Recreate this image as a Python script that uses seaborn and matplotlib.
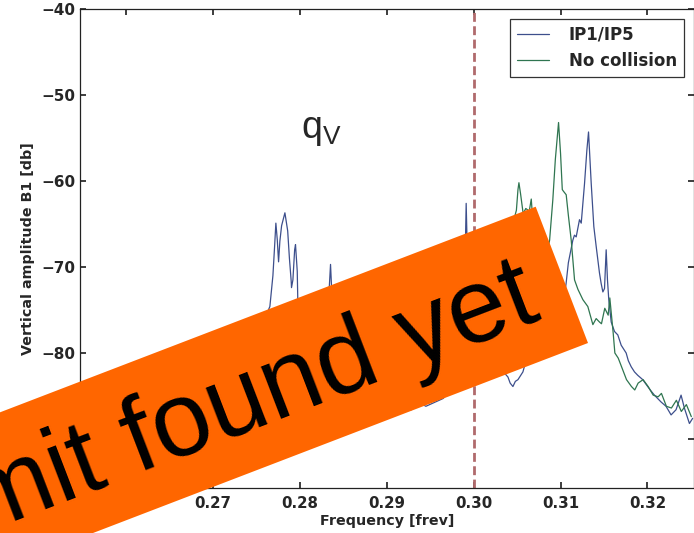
import numpy as np
import matplotlib
matplotlib.use("Agg")
import matplotlib.pyplot as plt
from matplotlib.patches import Rectangle
import seaborn as sns

####################################################################
# Spectra (frequency in frev, amplitude in db)
ip_freq = [0.2547, 0.2560, 0.2575, 0.2590, 0.2605, 0.2620, 0.2635, 0.2650, 0.2665,
           0.2680, 0.2695, 0.2710, 0.2725, 0.2740, 0.2752, 0.2760, 0.27655, 0.2769,
           0.2771, 0.27724, 0.2774, 0.27755, 0.2777, 0.2779, 0.27828, 0.2786, 0.2788,
           0.2790, 0.27904, 0.2792, 0.2794, 0.2795, 0.2797, 0.27977, 0.2800, 0.2805,
           0.2812, 0.2820, 0.2828, 0.2833, 0.28353, 0.2837, 0.2842, 0.2850, 0.2860,
           0.2870, 0.2880, 0.2890, 0.2900, 0.2910, 0.29284, 0.2935, 0.2945, 0.29647,
           0.29686, 0.2975, 0.2982, 0.2987, 0.2990, 0.29914, 0.2993, 0.2996, 0.3000,
           0.3008, 0.3015, 0.3022, 0.3030, 0.30395, 0.3042, 0.30452, 0.3048, 0.3051,
           0.30567, 0.30594, 0.3065, 0.3072, 0.3080, 0.3088, 0.3095, 0.3100, 0.3104,
           0.31064, 0.3109, 0.31141, 0.3116, 0.3118, 0.31218, 0.31238, 0.31276, 0.31303,
           0.31322, 0.31335, 0.31353, 0.31383, 0.3141, 0.31448, 0.31467, 0.31487, 0.31506,
           0.31525, 0.3154, 0.31555, 0.31583, 0.31621, 0.31659, 0.31698, 0.31755, 0.3178,
           0.31813, 0.31851, 0.31889, 0.31946, 0.32003, 0.3204, 0.3208, 0.32157, 0.32214,
           0.32272, 0.32329, 0.32387, 0.32425, 0.32483, 0.3252]
ip_amp = [-88.0, -87.2, -88.5, -86.9, -87.8, -86.4, -87.1, -85.8, -86.5,
          -84.9, -85.3, -83.6, -82.1, -80.2, -77.8, -75.9, -74.6, -71.0,
          -67.5, -64.9, -66.8, -69.4, -67.0, -65.2, -63.7, -65.8, -69.0,
          -71.6, -72.4, -71.5, -68.0, -67.4, -70.5, -74.2, -77.5, -78.8,
          -79.5, -77.8, -76.9, -74.0, -69.7, -73.5, -76.2, -78.4, -80.1,
          -81.5, -82.8, -84.0, -85.2, -86.0, -86.6, -85.6, -86.2, -85.3,
          -84.9, -83.0, -80.1, -76.0, -70.0, -62.6, -69.5, -76.8, -79.5,
          -80.8, -81.6, -82.4, -81.7, -82.8, -83.5, -83.9, -83.3, -83.1,
          -82.2, -81.2, -80.0, -78.6, -78.0, -77.2, -76.3, -75.0, -73.8,
          -71.9, -69.5, -66.9, -66.3, -66.5, -64.5, -64.9, -60.3, -56.4,
          -54.3, -56.8, -60.3, -65.3, -67.6, -70.7, -71.9, -72.9, -72.5,
          -68.0, -71.5, -73.8, -76.4, -77.5, -77.9, -79.1, -80.0, -80.9,
          -81.6, -82.2, -82.6, -83.1, -83.9, -84.4, -84.9, -85.7, -86.2,
          -87.2, -86.6, -84.9, -86.4, -88.2, -87.6]

nc_freq = [0.2547, 0.2562, 0.2578, 0.2594, 0.2610, 0.2626, 0.2642, 0.2658, 0.2674,
           0.2690, 0.2706, 0.2722, 0.2738, 0.2754, 0.2770, 0.2786, 0.2802, 0.2818,
           0.2834, 0.2850, 0.2866, 0.2882, 0.2898, 0.2914, 0.2930, 0.2946, 0.2962,
           0.2978, 0.2994, 0.3010, 0.3025, 0.3038, 0.3045, 0.30492, 0.3051, 0.30521,
           0.3054, 0.3057, 0.3060, 0.3064, 0.30663, 0.3068, 0.3072, 0.3078, 0.3083,
           0.30874, 0.30911, 0.3094, 0.30977, 0.3100, 0.3102, 0.31034, 0.31065, 0.3109,
           0.31123, 0.31161, 0.3120, 0.31257, 0.31314, 0.31372, 0.3141, 0.31448, 0.31471,
           0.31509, 0.31548, 0.31567, 0.31606, 0.31625, 0.31664, 0.31702, 0.31759, 0.31816,
           0.31854, 0.31893, 0.3195, 0.32008, 0.32066, 0.32123, 0.32161, 0.32218, 0.32276,
           0.32333, 0.3239, 0.32448, 0.32505]
nc_amp = [-89.0, -88.2, -89.1, -87.6, -88.3, -87.0, -87.7, -86.3, -86.9,
          -85.5, -86.1, -84.8, -85.4, -84.0, -83.2, -82.1, -83.0, -81.7,
          -82.4, -81.2, -81.9, -80.8, -81.5, -80.3, -80.9, -79.6, -78.9,
          -77.5, -76.2, -74.0, -71.2, -67.5, -65.0, -63.4, -61.0, -60.2,
          -61.5, -63.8, -63.2, -63.5, -62.1, -64.5, -68.0, -70.2, -69.0,
          -66.9, -62.2, -57.5, -53.2, -56.8, -61.0, -61.2, -61.6, -64.0,
          -66.9, -71.5, -72.6, -73.8, -74.6, -76.7, -76.0, -76.4, -76.6,
          -74.8, -75.6, -73.6, -77.7, -80.0, -80.6, -81.6, -83.1, -83.9,
          -84.3, -83.5, -83.1, -83.9, -84.9, -85.1, -84.7, -86.2, -86.4,
          -85.5, -86.8, -86.0, -87.4]

series_labels = ["IP1/IP5", "No collision"]
tune_line = 0.30
x_ticks = [0.26, 0.27, 0.28, 0.29, 0.30, 0.31, 0.32]
y_ticks = [-90, -80, -70, -60, -50, -40]
banner_text = "No limit found yet"
####################################################################

sns.set_theme(style="ticks", rc={
    "xtick.direction": "in", "ytick.direction": "in",
    "xtick.top": True, "ytick.right": True,
    "xtick.major.size": 4, "ytick.major.size": 4,
    "axes.linewidth": 0.9, "axes.edgecolor": "#222222",
})
plt.rcParams["font.family"] = ["DejaVu Sans"]
plt.rcParams["mathtext.fontset"] = "custom"
plt.rcParams["mathtext.rm"] = "Liberation Sans"

fig = plt.figure(figsize=(6.94, 5.33), dpi=100)
ax = fig.add_axes([80 / 694, 45 / 533, 613.5 / 694, 479 / 533])

blue = "#3d4f8c"
green = "#2f7550"
sns.lineplot(x=ip_freq, y=ip_amp, sort=False, estimator=None, color=blue,
             lw=0.9, label=series_labels[0], ax=ax)
sns.lineplot(x=nc_freq, y=nc_amp, sort=False, estimator=None, color=green,
             lw=0.9, label=series_labels[1], ax=ax)
ax.axvline(tune_line, color="#b06a6c", lw=2.0, ls=(0, (3.2, 1.6)), zorder=1)

ax.set_xlim(0.2547, 0.3253)
ax.set_ylim(-95.7, -40)
ax.set_xticks(x_ticks)
ax.set_yticks(y_ticks)
ax.set_xticklabels([f"{t:.2f}" for t in x_ticks])
ax.tick_params(axis="x", labelsize=10.8, pad=6)
ax.tick_params(axis="y", labelsize=11, pad=3)
for lab in ax.get_xticklabels() + ax.get_yticklabels():
    lab.set_fontweight("bold")
ax.set_xlabel("Frequency [frev]", fontsize=10.3, fontweight="bold", labelpad=2)
ax.set_ylabel("Vertical amplitude B1 [db]", fontsize=10.3, fontweight="bold", labelpad=5)

ax.text(0.2801, -55.0, r"q$_\mathrm{V}$", fontsize=27, family="Liberation Sans")

leg = ax.legend(loc="upper right", prop={"weight": "bold", "size": 12}, fancybox=False,
                framealpha=1, edgecolor="#333333", handlelength=1.9, handletextpad=1.2,
                labelspacing=0.5, borderpad=0.4, borderaxespad=0.6)
leg.get_frame().set_linewidth(0.9)

# orange banner laid over the plot
ang = 21.0
br = (5.88, 1.90)      # bottom right corner, inches
blen, bwid = 8.0, 1.46
xy = (br[0] - blen * np.cos(np.radians(ang)), br[1] - blen * np.sin(np.radians(ang)))
fig.add_artist(Rectangle(xy, blen, bwid, angle=ang, transform=fig.dpi_scale_trans,
                         facecolor="#ff6600", edgecolor="none", zorder=10))
fig.text(5.43, 2.15, banner_text, transform=fig.dpi_scale_trans, rotation=ang,
         rotation_mode="anchor", ha="right", va="baseline", fontsize=76,
         family="Liberation Sans", color="black", zorder=11)

fig.savefig("out.png", dpi=100)
